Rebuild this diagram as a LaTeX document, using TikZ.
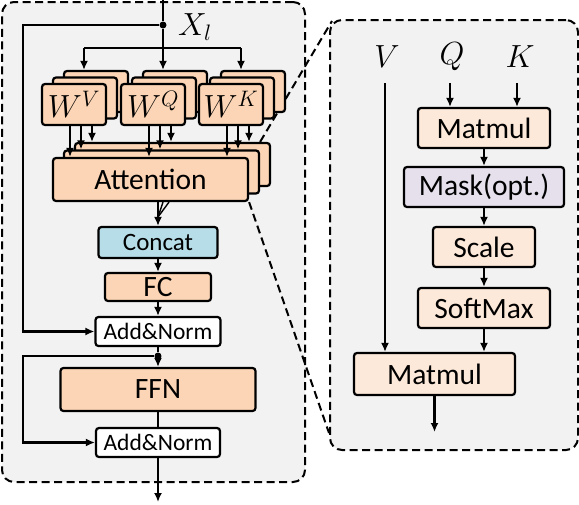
\RequirePackage{fix-cm}
\documentclass[tikz,border=0pt]{standalone}
\usepackage{fontspec}
\setmainfont{Carlito}
\usetikzlibrary{positioning,arrows.meta}

\definecolor{panelgray}{HTML}{F2F2F2}
\definecolor{peachfill}{HTML}{FBD5B5}
\definecolor{lightpeach}{HTML}{FDE9D9}
\definecolor{concatblue}{HTML}{B7DEE8}
\definecolor{maskpurple}{HTML}{E5E0EC}

\tikzset{
  panel/.style={draw, line width=2pt, dash pattern=on 8pt off 4.5pt, rounded corners=12pt, fill=panelgray, inner sep=0pt},
  zoomline/.style={line width=2pt, dash pattern=on 8pt off 4.5pt},
  blk/.style={draw, line width=2.2pt, rounded corners=3pt, inner sep=0pt, font=\fontsize{29.5}{31}\selectfont},
  arr/.style={line width=2.1pt, -{Latex[length=9pt,width=8pt]}},
  line/.style={line width=2.1pt},
  dot/.style={circle, fill, inner sep=0pt, minimum size=7pt},
  mathlbl/.style={font=\fontsize{32}{34}\selectfont, inner sep=0pt}
}

\begin{document}
\begin{tikzpicture}[x=1pt,y=-1pt]
    \useasboundingbox (0,0) rectangle (579,504);

    % Panels
    \node[panel, minimum width=303pt, minimum height=480pt] (lpanel) at (153.5,242) {};
    \node[panel, minimum width=248pt, minimum height=430pt] (rpanel) at (454,235) {};

    % Attention layers
    \node[blk, fill=peachfill, minimum width=195pt, minimum height=43pt] (att3) at (172.5,164.5) {};
    \node[blk, fill=peachfill, minimum width=195pt, minimum height=43pt] (att2) at (161.5,172) {};
    \node[blk, fill=peachfill, minimum width=195pt, minimum height=43pt] (att1) at (150.5,179.5) {Attention};

    % Zoom lines
    \draw[zoomline] ([xshift=-11pt]att3.north east) -- ([xshift=3pt,yshift=-2pt]rpanel.north west);
    \draw[zoomline] (att1.south east) -- ([yshift=18pt]rpanel.south west);

    % Projection layers
    \foreach \n/\x/\s in {wv/74/V, wq/153/Q, wk/231/K}{
      \node[blk, fill=peachfill, minimum width=64pt, minimum height=41pt] (\n3) at (\x+22,91.5) {};
      \node[blk, fill=peachfill, minimum width=64pt, minimum height=41pt] (\n2) at (\x+11,98) {};
      \node[blk, fill=peachfill, minimum width=64pt, minimum height=41pt, font=\fontsize{32}{34}\selectfont] (\n1) at (\x,104.5) {$W^{\s}$};
    }

    % Input
    \coordinate (in) at (163,0);
    \node[dot] (split) at (163,25) {};
    \node[mathlbl] (xl) at (195,27) {$X_l$};
    \coordinate (bar) at (163,48);
    \draw[line] (in) -- (split) -- (bar);
    \draw[line] ([xshift=-12pt]wv3.north |- bar) -- ([xshift=-12pt]wk3.north |- bar);
    \foreach \n in {wv,wq,wk}
      \draw[arr] ([xshift=-12pt]\n3.north |- bar) -- ([xshift=-12pt]\n3.north);

    % Heads into attention
    \foreach \n in {wv,wq,wk}
      \foreach \k in {1,2,3}
        \draw[arr] ([xshift=-4pt]\n\k.south |- \n1.south) -- ([xshift=-4pt]\n\k.south |- att\k.north);

    % Concat, FC, Add&Norm, FFN
    \node[blk, fill=concatblue, minimum width=119pt, minimum height=31pt, font=\fontsize{25}{27}\selectfont] (concat) at (158,242.5) {Concat};
    \node[blk, fill=peachfill, minimum width=106pt, minimum height=28pt] (fc) at (158,287) {FC};
    \node[blk, fill=white, minimum width=125pt, minimum height=29pt, font=\fontsize{23.5}{25}\selectfont] (an1) at (158,331.5) {Add\&Norm};
    \node[blk, fill=peachfill, minimum width=195pt, minimum height=43pt] (ffn) at (158,389.5) {FFN};
    \node[blk, fill=white, minimum width=124pt, minimum height=29pt, font=\fontsize{23.5}{25}\selectfont] (an2) at (158,442.5) {Add\&Norm};

    % Heads merged
    \coordinate (merge) at (158,217);
    \foreach \dx in {7.5,12.5,18.5}
      \draw[line, line width=1.4pt] ([xshift=\dx pt]att1.south) -- (merge);
    \draw[arr] (merge) -- (concat.north);
    \draw[arr] (concat.south) -- (fc.north);
    \draw[arr] (fc.south) -- (an1.north);
    \node[dot] (split2) at (158,356) {};
    \draw[line] (an1.south) -- (split2);
    \draw[arr] (split2) -- (ffn.north);
    \draw[line] (ffn.south) -- (an2.north);
    \coordinate (out) at (158,502);
    \draw[arr] (an2.south) -- (out);

    % Residual paths
    \coordinate (res1) at (23,25);
    \draw[arr] (split) -- (res1) |- (an1.west);
    \coordinate (res2) at (23,356);
    \draw[arr] (split2) -- (res2) |- (an2.west);

    % Scaled dot-product attention
    \node[mathlbl] (vl) at (387,57) {$V$};
    \node[mathlbl] (ql) at (452,57) {$Q$};
    \node[mathlbl] (kl) at (520,57) {$K$};
    \coordinate (vtop) at (385,83);
    \coordinate (qtop) at (450,83);
    \coordinate (ktop) at (517,83);
    \node[blk, fill=lightpeach, minimum width=132pt, minimum height=40pt] (mm1) at (484,128) {Matmul};
    \node[blk, fill=maskpurple, minimum width=160pt, minimum height=40pt] (mask) at (484,187) {Mask(opt.)};
    \node[blk, fill=lightpeach, minimum width=102pt, minimum height=40pt] (scale) at (484,247) {Scale};
    \node[blk, fill=lightpeach, minimum width=132pt, minimum height=40pt] (soft) at (484,308) {SoftMax};
    \node[blk, fill=lightpeach, minimum width=161pt, minimum height=42pt] (mm2) at (434.5,374) {Matmul};
    \coordinate (rout) at (434.5,432);

    \draw[arr] (qtop) -- (qtop |- mm1.north);
    \draw[arr] (ktop) -- (ktop |- mm1.north);
    \draw[arr] (mm1.south) -- (mask.north);
    \draw[arr] (mask.south) -- (scale.north);
    \draw[arr] (scale.south) -- (soft.north);
    \draw[arr] (soft.south) -- (soft.south |- mm2.north);
    \draw[arr] (vtop) -- (vtop |- mm2.north);
    \draw[arr] (mm2.south) -- (rout);
\end{tikzpicture}
\end{document}
